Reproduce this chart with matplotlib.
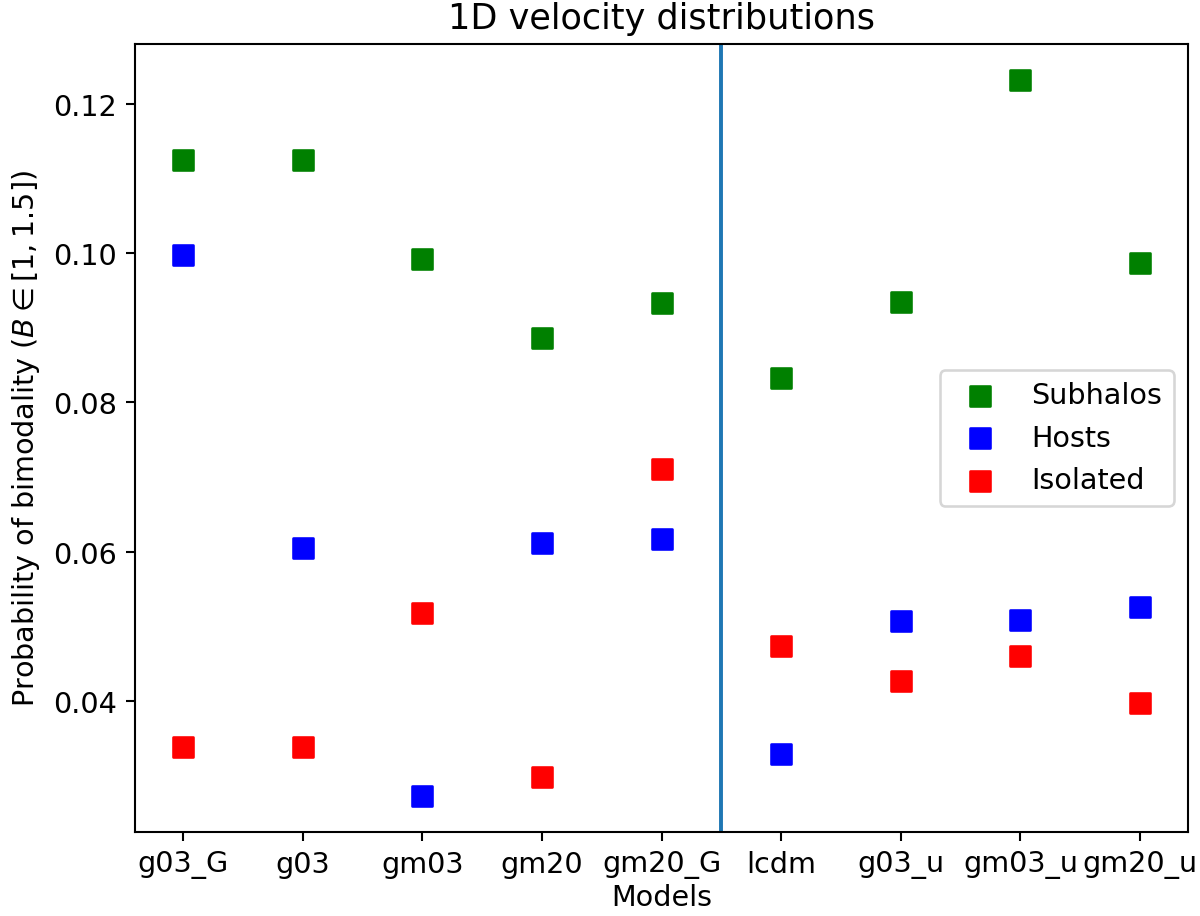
import numpy as np
import matplotlib.pyplot as plt

models = ['g03_G', 'g03', 'gm03', 'gm20', 'gm20_G', 'lcdm', 'g03_u', 'gm03_u', 'gm20_u']
subhalos = [0.1125, 0.1125, 0.0992, 0.0886, 0.0933, 0.0832, 0.0934, 0.1232, 0.0987]
hosts = [0.0997, 0.0605, 0.0273, 0.0612, 0.0617, 0.0329, 0.0507, 0.0509, 0.0526]
isolated = [0.0338, 0.0338, 0.0518, 0.0298, 0.0711, 0.0474, 0.0427, 0.0460, 0.0397]

x = np.arange(len(models))

plt.rcParams['font.size'] = 11

fig, ax = plt.subplots(figsize=(6.4, 4.89), dpi=187.5)
fig.subplots_adjust(left=0.1125, right=0.99, bottom=0.092, top=0.951)

ax.scatter(x, subhalos, marker='s', s=55, color='green', label='Subhalos')
ax.scatter(x, hosts, marker='s', s=55, color='blue', label='Hosts')
ax.scatter(x, isolated, marker='s', s=55, color='red', label='Isolated')
ax.axvline(4.5)

ax.set_xticks(x)
ax.set_xticklabels(models)
ax.set_xlabel('Models', labelpad=2)
ax.set_ylabel(r'Probability of bimodality ($B \in [1, 1.5]$)')
ax.set_title('1D velocity distributions', fontsize=13.5)
ax.legend(loc='center right')

fig.savefig('out.png')
